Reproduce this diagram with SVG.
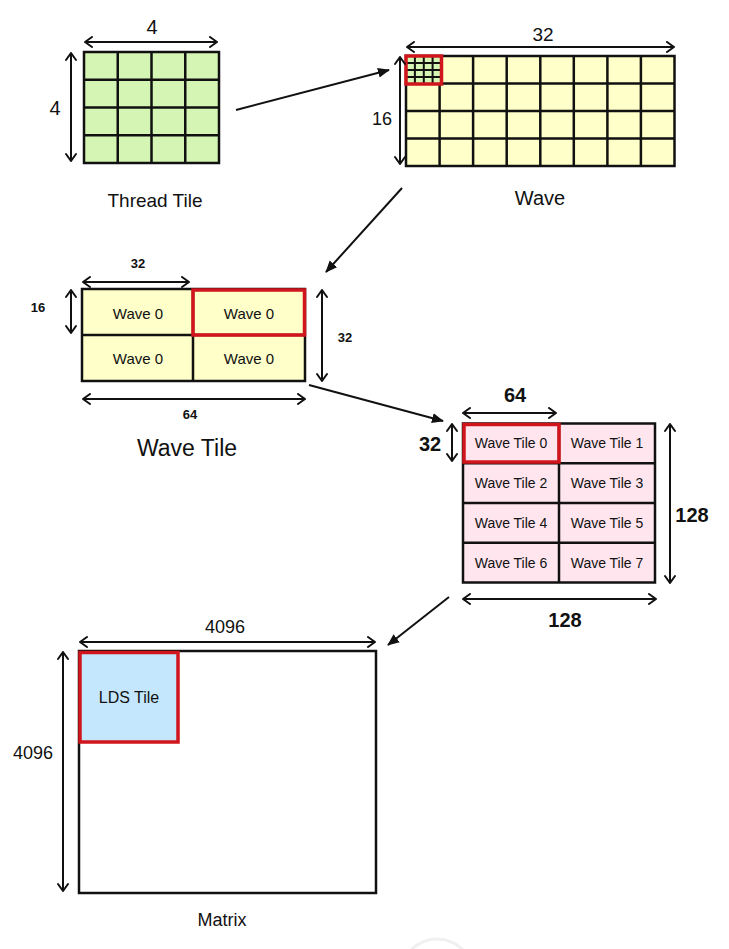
<svg xmlns="http://www.w3.org/2000/svg" width="729" height="949" viewBox="0 0 729 949">
<defs>
<style>
text{font-family:"Liberation Sans","DejaVu Sans",sans-serif;fill:#111;text-anchor:middle;dominant-baseline:central}
.grid{stroke:#111;stroke-width:2.5;fill:none}
.dim{stroke:#111;stroke-width:2;fill:none;marker-start:url(#open);marker-end:url(#open)}
.conn{stroke:#111;stroke-width:2;fill:none;marker-end:url(#solid)}
.red{fill:none;stroke:#d0151c;stroke-width:3.5}
</style>
<marker id="open" viewBox="0 0 12 12" refX="11" refY="6" markerWidth="12" markerHeight="12" markerUnits="userSpaceOnUse" orient="auto-start-reverse">
<path d="M4,1 L11,6 L4,11" fill="none" stroke="#111" stroke-width="2" stroke-linecap="round" stroke-linejoin="round"/>
</marker>
<marker id="solid" viewBox="0 0 12 12" refX="11" refY="6" markerWidth="12" markerHeight="12" markerUnits="userSpaceOnUse" orient="auto">
<path d="M0,1 L12,6 L0,11 Z" fill="#111"/>
</marker>
</defs>
<rect width="729" height="949" fill="#fff"/>

<g id="thread-tile">
<rect x="84" y="52" width="135" height="111" fill="#d4f5b4"/>
<path class="grid" d="M84,52H219V163H84Z M117.75,52V163 M151.5,52V163 M185.25,52V163 M84,79.75H219 M84,107.5H219 M84,135.25H219"/>
<line class="dim" x1="85" y1="42" x2="217" y2="42"/>
<text x="152" y="27" font-size="20">4</text>
<line class="dim" x1="71" y1="53" x2="71" y2="161"/>
<text x="55" y="108" font-size="20">4</text>
<text x="155" y="200" font-size="19">Thread Tile</text>
</g>

<g id="wave">
<rect x="406" y="56" width="268.5" height="110" fill="#ffffc9"/>
<path class="grid" d="M406,56H674.5V166H406Z M439.6,56V166 M473.1,56V166 M506.7,56V166 M540.3,56V166 M573.8,56V166 M607.4,56V166 M640.9,56V166 M406,83.5H674.5 M406,111H674.5 M406,138.5H674.5"/>
<rect x="406" y="56" width="35.5" height="28" fill="#d4f5b4"/>
<path stroke="#111" stroke-width="2" fill="none" d="M414.9,56V84 M423.8,56V84 M432.6,56V84 M406,63H441.5 M406,70H441.5 M406,77H441.5"/>
<rect class="red" x="406" y="56" width="35.5" height="28"/>
<line class="dim" x1="407" y1="47" x2="674" y2="47"/>
<text x="543" y="34" font-size="19">32</text>
<line class="dim" x1="400" y1="57" x2="400" y2="164"/>
<text x="382" y="119" font-size="18">16</text>
<text x="540" y="198" font-size="20">Wave</text>
</g>

<g id="wave-tile">
<rect x="82" y="289" width="223" height="92" fill="#ffffc9"/>
<path class="grid" d="M82,289H305V381H82Z M193,289V381 M82,335H305"/>
<rect class="red" x="193" y="290" width="111.5" height="45"/>
<text x="138" y="313" font-size="15">Wave 0</text>
<text x="249" y="313" font-size="15">Wave 0</text>
<text x="138" y="358" font-size="15">Wave 0</text>
<text x="249" y="358" font-size="15">Wave 0</text>
<line class="dim" x1="83" y1="282" x2="189" y2="282"/>
<text x="138" y="263" font-size="13" font-weight="bold">32</text>
<line class="dim" x1="71" y1="290" x2="71" y2="333"/>
<text x="38" y="307" font-size="13" font-weight="bold">16</text>
<line class="dim" x1="322" y1="290" x2="322" y2="381"/>
<text x="345" y="337" font-size="13" font-weight="bold">32</text>
<line class="dim" x1="83" y1="399" x2="305" y2="399"/>
<text x="190" y="414" font-size="13" font-weight="bold">64</text>
<text x="187" y="448" font-size="23">Wave Tile</text>
</g>

<g id="wave-tile-grid">
<rect x="463" y="423.5" width="192" height="159" fill="#ffe6ee"/>
<path class="grid" d="M463,423.5H655V582.5H463Z M559,423.5V582.5 M463,463.25H655 M463,503H655 M463,542.75H655"/>
<rect class="red" x="464" y="424.5" width="95" height="37.5"/>
<text x="511" y="443" font-size="14">Wave Tile 0</text>
<text x="607" y="443" font-size="14">Wave Tile 1</text>
<text x="511" y="483" font-size="14">Wave Tile 2</text>
<text x="607" y="483" font-size="14">Wave Tile 3</text>
<text x="511" y="523" font-size="14">Wave Tile 4</text>
<text x="607" y="523" font-size="14">Wave Tile 5</text>
<text x="511" y="563" font-size="14">Wave Tile 6</text>
<text x="607" y="563" font-size="14">Wave Tile 7</text>
<line class="dim" x1="463" y1="413" x2="556" y2="413"/>
<text x="515" y="395" font-size="20" font-weight="bold">64</text>
<line class="dim" x1="452" y1="424" x2="452" y2="461"/>
<text x="430" y="444" font-size="20" font-weight="bold">32</text>
<line class="dim" x1="670" y1="424" x2="670" y2="583"/>
<text x="692" y="515" font-size="20" font-weight="bold">128</text>
<line class="dim" x1="463" y1="599" x2="656" y2="599"/>
<text x="565" y="620" font-size="20" font-weight="bold">128</text>
</g>

<g id="matrix">
<rect x="79" y="651" width="297" height="242" fill="#fff" stroke="#111" stroke-width="2.5"/>
<rect x="80" y="652.5" width="98" height="89.5" fill="#c4e7fd" stroke="#d0151c" stroke-width="3.5"/>
<text x="129" y="697" font-size="16">LDS Tile</text>
<line class="dim" x1="80" y1="642" x2="375" y2="642"/>
<text x="225" y="627" font-size="18">4096</text>
<line class="dim" x1="63" y1="652" x2="63" y2="891"/>
<text x="33" y="753" font-size="18">4096</text>
<text x="222" y="920" font-size="18">Matrix</text>
</g>

<g id="connectors">
<line class="conn" x1="236" y1="110" x2="389" y2="70"/>
<line class="conn" x1="402" y1="188" x2="326" y2="272"/>
<line class="conn" x1="309" y1="385" x2="443" y2="421"/>
<line class="conn" x1="449" y1="597" x2="388" y2="645"/>
</g>

<circle cx="437" cy="975" r="36" fill="#fff" stroke="#f0f0f0" stroke-width="3"/>
</svg>
